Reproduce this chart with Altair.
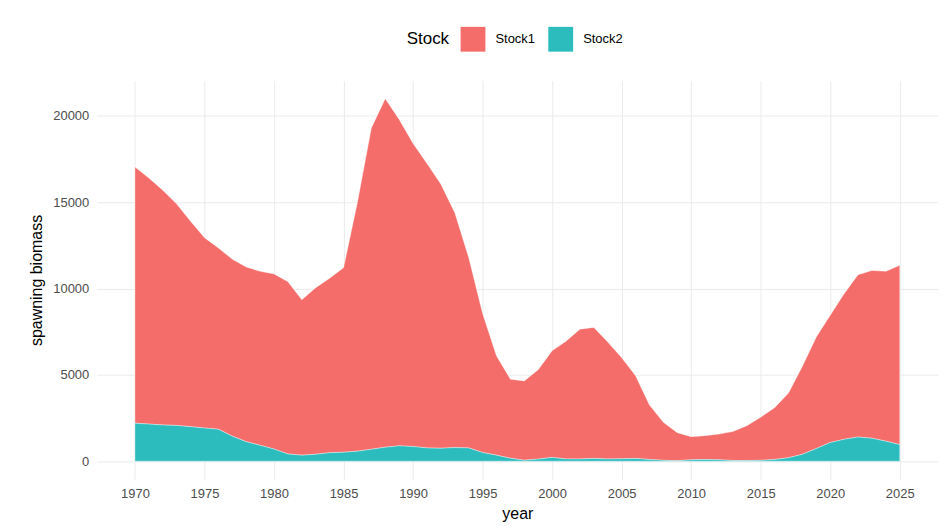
import altair as alt
import pandas as pd

years = list(range(1970, 2026))

stock1 = [14850, 14250, 13600, 12830, 11900, 11030, 10500, 10250, 10120, 10080,
          10150, 9980, 9000, 9650, 10110, 10680, 14420, 18610, 20190, 18910,
          17550, 16480, 15300, 13610, 11030, 8050, 5750, 4580, 4590, 5180,
          6180, 6820, 7520, 7590, 6770, 5860, 4790, 3150, 2200, 1620,
          1340, 1380, 1490, 1680, 2010, 2500, 3000, 3750, 5100, 6470,
          7370, 8430, 9400, 9720, 9840, 10390]

stock2 = [2200, 2150, 2100, 2070, 2000, 1920, 1850, 1450, 1130, 920,
          700, 420, 350, 400, 490, 520, 580, 690, 810, 890,
          850, 770, 750, 790, 770, 500, 350, 170, 60, 120,
          220, 130, 130, 160, 130, 140, 160, 100, 50, 30,
          80, 100, 80, 40, 40, 50, 100, 200, 400, 730,
          1080, 1270, 1400, 1330, 1160, 960]

stocks = ["Stock1", "Stock2"]
colors = ["#F46D6A", "#2CBCBE"]
x_ticks = list(range(1970, 2030, 5))
y_ticks = [0, 5000, 10000, 15000, 20000]

rows = []
for y, a, b in zip(years, stock1, stock2):
    rows.append({"year": y, "Stock": "Stock1", "biomass": a, "ord": 1})
    rows.append({"year": y, "Stock": "Stock2", "biomass": b, "ord": 0})
df = pd.DataFrame(rows)

font = "Liberation Sans"

chart = alt.Chart(df).mark_area(
    stroke="#ffffff", strokeWidth=0.6, strokeOpacity=0.6, opacity=1
).encode(
    x=alt.X("year:Q",
            scale=alt.Scale(domain=[1967.25, 2027.75], nice=False, zero=False),
            axis=alt.Axis(values=x_ticks, format="d", title="year",
                          grid=True, gridColor="#EBEBEB", gridWidth=1,
                          domain=False, ticks=False, labelColor="#4D4D4D",
                          labelFontSize=13, labelPadding=8, labelFont=font,
                          titleFont=font, titleFontSize=16, titleColor="#000000",
                          titleFontWeight="normal", titlePadding=5)),
    y=alt.Y("biomass:Q", stack="zero",
            scale=alt.Scale(domain=[-1050, 22050], nice=False, zero=False),
            axis=alt.Axis(values=y_ticks, format="d", title="spawning biomass",
                          grid=True, gridColor="#EBEBEB", gridWidth=1,
                          domain=False, ticks=False, labelColor="#4D4D4D",
                          labelFontSize=13, labelPadding=8, labelFont=font,
                          titleFont=font, titleFontSize=16, titleColor="#000000",
                          titleFontWeight="normal", titlePadding=8)),
    color=alt.Color("Stock:N",
                    scale=alt.Scale(domain=stocks, range=colors),
                    legend=alt.Legend(orient="none", legendX=311, legendY=-54,
                                      direction="horizontal", titleOrient="left",
                                      title="Stock", titleFontSize=17,
                                      titleFontWeight="normal", titleColor="#000000",
                                      titleFont=font, titleAnchor="middle",
                                      titleBaseline="middle", titlePadding=11,
                                      labelFont=font, labelFontSize=13,
                                      labelColor="#000000", labelOffset=10,
                                      symbolType="square", symbolSize=620,
                                      symbolStrokeWidth=0, symbolOpacity=1,
                                      columnPadding=13)),
    order=alt.Order("ord:Q", sort="ascending"),
).properties(
    width=844, height=400,
    autosize=alt.AutoSizeParams(type="none"),
    padding={"left": 89, "top": 72, "right": 2, "bottom": 44},
    background="#ffffff",
).configure_view(stroke=None)

chart.save("out.html", embed_options={"renderer": "svg", "actions": False})
